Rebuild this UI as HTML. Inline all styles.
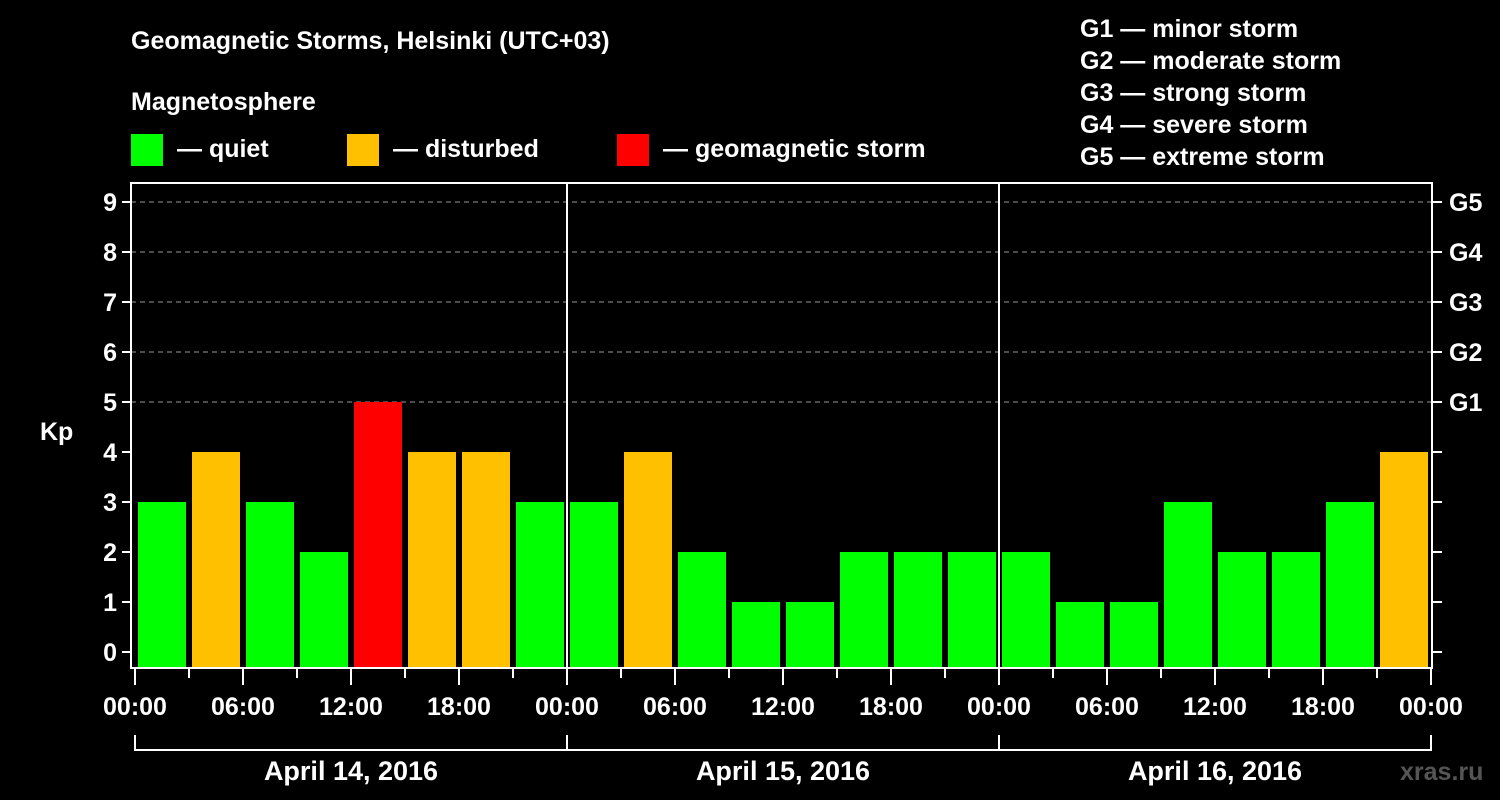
<!DOCTYPE html>
<html><head><meta charset="utf-8"><style>
html,body{margin:0;padding:0;background:#000;}
svg{display:block;font-family:"Liberation Sans",Arial,sans-serif;font-weight:bold;}
</style></head><body>
<svg id="c" width="1500" height="800" xmlns="http://www.w3.org/2000/svg">
<rect width="1500" height="800" fill="#000"/>
<text x="131" y="49" fill="#fff" font-size="25">Geomagnetic Storms, Helsinki (UTC+03)</text>
<text x="131" y="110" fill="#fff" font-size="25">Magnetosphere</text>
<g><rect x="131" y="134" width="32" height="32" fill="#00ff00"/><text x="177" y="157" fill="#fff" font-size="25">— quiet</text></g>
<g><rect x="347" y="134" width="32" height="32" fill="#ffc000"/><text x="393" y="157" fill="#fff" font-size="25">— disturbed</text></g>
<g><rect x="617" y="134" width="32" height="32" fill="#ff0000"/><text x="663" y="157" fill="#fff" font-size="25">— geomagnetic storm</text></g>
<g fill="#fff" font-size="25">
<text x="1080" y="37">G1 — minor storm</text>
<text x="1080" y="69">G2 — moderate storm</text>
<text x="1080" y="101">G3 — strong storm</text>
<text x="1080" y="133">G4 — severe storm</text>
<text x="1080" y="165">G5 — extreme storm</text>
</g>
<text x="40" y="440" fill="#fff" font-size="25">Kp</text>
<text x="1400" y="780" fill="#555" font-size="25">xras.ru</text>
<g id="grid"></g><g id="bars"></g><g id="axes"></g>
</svg>
<script>
const days = ["April 14, 2016","April 15, 2016","April 16, 2016"];
const kpValues = [3,4,3,2,5,4,4,3, 3,4,2,1,1,2,2,2, 2,1,1,3,2,2,3,4];
const yTicks = [0,1,2,3,4,5,6,7,8,9];
const gLabels = ["G1","G2","G3","G4","G5"];
const xLabels = ["00:00","06:00","12:00","18:00"];
const NS="http://www.w3.org/2000/svg";
const X0=135, SLOT=54, Y0=652, UNIT=50, LEFT=131, RIGHT=1432, TOP=183, BOT=668;
const xs = i => X0 + i*SLOT;
const ys = v => Y0 - v*UNIT;
function mk(tag, attrs, parent, txt){const e=document.createElementNS(NS,tag);for(const k in attrs)e.setAttribute(k,attrs[k]);if(txt!==undefined)e.textContent=txt;document.getElementById(parent).appendChild(e);return e;}
yTicks.forEach(v=>{
  if(v>=5){const g=mk('line',{x1:LEFT,x2:RIGHT,y1:ys(v),y2:ys(v),stroke:'#999','stroke-dasharray':'5,4','stroke-width':1},'grid');
  
  }
  const t=mk('line',{x1:LEFT-9,x2:LEFT,y1:ys(v),y2:ys(v),stroke:'#fff','stroke-width':2},'axes');
  
  
  const r=mk('line',{x1:RIGHT,x2:RIGHT+10,y1:ys(v),y2:ys(v),stroke:'#fff','stroke-width':2},'axes');
  
  
  const l=mk('text',{x:LEFT-14,y:ys(v)+9,fill:'#fff','font-size':25,'text-anchor':'end'},'axes',String(v));
  
  
});
gLabels.forEach((g,i)=>{
  const l=mk('text',{x:RIGHT+17,y:ys(5+i)+9,fill:'#fff','font-size':25},'axes',g);
  
  
});
kpValues.forEach((v,i)=>{
  const col = v>=5?'#ff0000':(v>=4?'#ffc000':'#00ff00');
  const b=mk('rect',{x:xs(i)+3,y:ys(v),width:48,height:BOT-ys(v),fill:col},'bars');
  
  
});
const fr=mk('rect',{x:LEFT,y:TOP,width:RIGHT-LEFT,height:BOT-TOP,fill:'none',stroke:'#fff','stroke-width':2},'axes');


for(let d=1;d<days.length;d++){
  const s=mk('line',{x1:xs(d*8),x2:xs(d*8),y1:TOP,y2:BOT,stroke:'#fff','stroke-width':2},'axes');
  
  
}
for(let i=0;i<=kpValues.length;i++){
  const major=i%2===0;
  const t=mk('line',{x1:xs(i),x2:xs(i),y1:BOT,y2:BOT+(major?17:10),stroke:'#fff','stroke-width':2},'axes');
  
  
  if(major){
    const l=mk('text',{x:xs(i),y:715,fill:'#fff','font-size':25,'text-anchor':'middle'},'axes',xLabels[(i/2)%4]);
    
    
  }
}
days.forEach((d,i)=>{
  const a=xs(i*8), b=xs(i*8+8);
  const p=mk('path',{d:`M${a},735V750H${b}V735`,fill:'none',stroke:'#fff','stroke-width':2},'axes');
  
  
  const l=mk('text',{x:(a+b)/2,y:780,fill:'#fff','font-size':27,'text-anchor':'middle'},'axes',d);
  
  
});
</script>
</body></html>
